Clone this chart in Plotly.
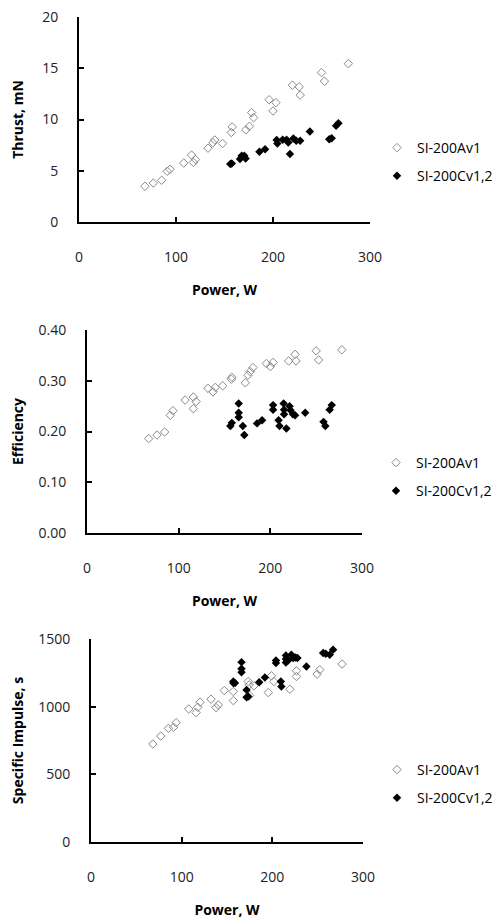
import plotly.graph_objects as go

# --- Thrust vs power ---
thrust_a_power = [68, 76.6, 85.2, 91, 93.8, 108, 116, 118, 120, 133, 138, 140, 148, 157, 158,
                  172, 175.6, 178, 180, 196, 200, 203, 220, 227, 228, 250, 253, 277.7]
thrust_a = [3.49, 3.8, 4.07, 4.95, 5.14, 5.75, 6.53, 5.82, 6.1, 7.2, 7.73, 8.0, 7.66, 8.73, 9.28,
            8.99, 9.34, 10.67, 10.18, 11.93, 10.83, 11.64, 13.35, 13.19, 12.38, 14.58, 13.74, 15.45]
thrust_c_power = [156, 157.5, 166, 167.7, 170.4, 171.8, 186, 191.8, 203.8, 204.5, 210, 214, 215.8,
                  217.5, 221, 224, 228, 238, 258, 260.5, 265, 267.4]
thrust_c = [5.66, 5.7, 6.14, 6.47, 6.47, 6.2, 6.85, 7.1, 7.99, 7.66, 8.02, 8.02, 7.76,
            6.63, 8.15, 7.92, 7.92, 8.83, 8.08, 8.18, 9.38, 9.63]

# --- Efficiency vs power ---
eff_a_power = [67.3, 76.4, 84.7, 90.9, 93.8, 107, 116, 116, 119, 132, 137.5, 140, 148, 157.5,
               158, 172.7, 175.6, 178, 181, 195.6, 200, 203, 220, 227, 228, 250, 252.7, 278]
eff_a = [0.186, 0.193, 0.199, 0.232, 0.241, 0.262, 0.245, 0.268, 0.259, 0.285, 0.278, 0.287,
         0.29, 0.303, 0.307, 0.296, 0.311, 0.318, 0.326, 0.334, 0.328, 0.336, 0.339, 0.352,
         0.339, 0.359, 0.341, 0.361]
eff_c_power = [156.4, 158, 165.5, 165.5, 165.5, 170, 171.6, 185.5, 191, 203, 203, 209, 210,
               214.5, 215, 215, 217.5, 221, 222, 224.7, 227, 238, 258, 260, 264.7, 267]
eff_c = [0.211, 0.217, 0.255, 0.237, 0.228, 0.211, 0.193, 0.216, 0.222, 0.252, 0.243, 0.222,
         0.211, 0.255, 0.243, 0.234, 0.206, 0.25, 0.242, 0.234, 0.232, 0.237, 0.219, 0.211,
         0.243, 0.252]

# --- Specific impulse vs power ---
isp_a_power = [68.2, 77, 85.4, 91, 93.9, 107.8, 115.9, 117.7, 120.3, 132.4, 137.9, 140.4, 147,
               157, 157, 173.4, 174.5, 175, 179.7, 195.5, 199, 201.7, 219.3, 226.6, 226.6,
               249.4, 252.3, 276.9]
isp_a = [724, 783, 840, 848, 882, 983, 956, 996, 1033, 1055, 993, 1013, 1119, 1045, 1112, 1186,
         1161, 1082, 1154, 1104, 1228, 1186, 1129, 1223, 1265, 1240, 1273, 1315]
isp_c_power = [157, 157, 158.8, 166, 166, 166, 171.6, 171.6, 173.4, 185.5, 191.8, 204, 204,
               209.4, 210, 215, 215, 215, 217.5, 221, 223, 225.5, 227.7, 237.6, 256, 258.9,
               263.3, 267]
isp_c = [1174, 1186, 1174, 1329, 1280, 1255, 1124, 1070, 1075, 1181, 1216, 1342, 1322, 1186,
         1149, 1379, 1352, 1327, 1342, 1384, 1359, 1364, 1359, 1297, 1396, 1391, 1384, 1421]

names = ["SI-200Av1", "SI-200Cv1,2"]
FONT = "Open Sans"

# page body has an 8px margin, so the figure is laid out in page pixels minus OFF
OFF = 8
W, H = 500 - OFF, 920 - OFF

panels = [
    dict(ya=[0, 20], dtick=5, fmt="d", title="Thrust, mN",
         a=(thrust_a_power, thrust_a), c=(thrust_c_power, thrust_c),
         xd=[79, 370], yd=[222, 17], leg=(377, 132), ystand=16),
    dict(ya=[0, 0.40], dtick=0.1, fmt=".2f", title="Efficiency",
         a=(eff_a_power, eff_a), c=(eff_c_power, eff_c),
         xd=[87, 362], yd=[533, 330], leg=(376, 447), ystand=13),
    dict(ya=[0, 1500], dtick=500, fmt="d", title="Specific Impulse, s",
         a=(isp_a_power, isp_a), c=(isp_c_power, isp_c),
         xd=[91, 363], yd=[842, 639], leg=(377, 754), ystand=17),
]


def px_x(v):
    return (v - OFF) / W


def px_y(v):
    return 1 - (v - OFF) / H


fig = go.Figure()
layout = {}
for i, p in enumerate(panels, start=1):
    sfx = "" if i == 1 else str(i)
    leg = "legend" if i == 1 else f"legend{i}"
    fig.add_trace(go.Scatter(
        x=p["a"][0], y=p["a"][1], mode="markers", name=names[0],
        xaxis=f"x{sfx}", yaxis=f"y{sfx}", legend=leg, legendgroup=f"a{i}",
        marker=dict(symbol="diamond-open", size=6.5, color="#8a8a8a", line=dict(width=1)),
    ))
    fig.add_trace(go.Scatter(
        x=p["c"][0], y=p["c"][1], mode="markers", name=names[1],
        xaxis=f"x{sfx}", yaxis=f"y{sfx}", legend=leg, legendgroup=f"c{i}",
        marker=dict(symbol="diamond", size=6.5, color="black"),
    ))
    layout[f"xaxis{sfx}"] = dict(
        domain=[px_x(p["xd"][0]), px_x(p["xd"][1])], range=[0, 300], dtick=100,
        anchor=f"y{sfx}", showgrid=False, zeroline=False, showline=True, automargin=False,
        linecolor="black", linewidth=2, ticks="inside", ticklen=5, tickwidth=1.5,
        tickcolor="black", ticklabelstandoff=21, ticklabeloverflow="allow",
        tickfont=dict(family=FONT, size=14, color="#222"),
        title=dict(text="<b>Power, W</b>", standoff=20,
                   font=dict(family=FONT, size=14, color="black")),
    )
    layout[f"yaxis{sfx}"] = dict(
        domain=[px_y(p["yd"][0]), px_y(p["yd"][1])], range=p["ya"], dtick=p["dtick"],
        tickformat=p["fmt"], anchor=f"x{sfx}", showgrid=False, zeroline=False,
        showline=True, automargin=False, linecolor="black", linewidth=2, ticks="inside",
        ticklen=5, tickwidth=1.5, tickcolor="black", ticklabelstandoff=16,
        ticklabeloverflow="allow",
        tickfont=dict(family=FONT, size=14, color="#222"),
        title=dict(text=f"<b>{p['title']}</b>", standoff=p["ystand"],
                   font=dict(family=FONT, size=14, color="black")),
    )
    layout[leg] = dict(
        x=px_x(p["leg"][0]), y=px_y(p["leg"][1]), xanchor="left", yanchor="top",
        font=dict(family=FONT, size=14, color="black"), bgcolor="rgba(0,0,0,0)",
        tracegroupgap=7, traceorder="grouped",
    )

fig.update_layout(
    width=W, height=H, margin=dict(l=0, r=0, t=0, b=0),
    paper_bgcolor="white", plot_bgcolor="white", showlegend=True,
    **layout,
)

fig.write_html("out.html")
